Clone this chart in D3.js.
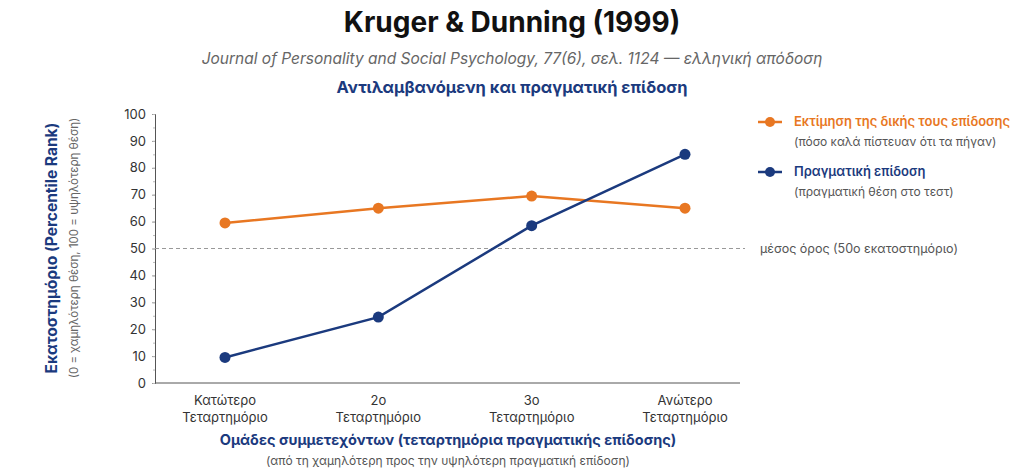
<!DOCTYPE html>
<html><head><meta charset="utf-8">
<script src="https://cdn.jsdelivr.net/npm/d3@7"></script>
<style>body{margin:0;background:#fff;font-family:Inter,"Noto Sans",sans-serif}</style>
</head><body><svg id="c" width="1024" height="473"></svg>
<script>
const groups = ["Κατώτερο\nΤεταρτημόριο", "2ο\nΤεταρτημόριο", "3ο\nΤεταρτημόριο", "Ανώτερο\nΤεταρτημόριο"];
const perceived = [59.5, 65, 69.5, 65];
const actual = [9.5, 24.5, 58.5, 85];
const yTicks = [0, 10, 20, 30, 40, 50, 60, 70, 80, 90, 100];
const orange = "#e87722", navy = "#1b3a7e";

const svg = d3.select("#c");
const x = d3.scalePoint().domain(groups).range([225, 685]);
const y = d3.scaleLinear().domain([0, 100]).range([383, 114]);

// titles
svg.append("text").attr("x", 512).attr("y", 32).attr("text-anchor", "middle")
  .attr("font-size", 28).attr("font-weight", 700).attr("fill", "#111").text("Kruger & Dunning (1999)");
svg.append("text").attr("x", 512).attr("y", 64).attr("text-anchor", "middle")
  .attr("font-size", 15.5).attr("font-style", "italic").attr("fill", "#666")
  .text("Journal of Personality and Social Psychology, 77(6), σελ. 1124 — ελληνική απόδοση");
svg.append("text").attr("x", 512).attr("y", 93).attr("text-anchor", "middle")
  .attr("font-size", 16.5).attr("font-weight", 700).attr("fill", navy).text("Αντιλαμβανόμενη και πραγματική επίδοση");

// y axis
const yAxis = svg.append("g").attr("transform", "translate(155,0)")
  .call(d3.axisLeft(y).tickValues(yTicks).tickSize(3).tickPadding(6));
yAxis.select(".domain").attr("stroke", "#555");
yAxis.selectAll("text").attr("font-size", 13).attr("fill", "#333").attr("font-family", "Inter,sans-serif");
yAxis.selectAll("line").attr("stroke", "#999");
svg.append("g").attr("transform", "translate(155,0)")
  .call(d3.axisLeft(y).ticks(20).tickSize(2).tickFormat(""))
  .call(g => g.select(".domain").remove()).selectAll("line").attr("stroke", "#bbb");

// x axis line
svg.append("line").attr("x1", 155).attr("x2", 740).attr("y1", y(0)).attr("y2", y(0)).attr("stroke", "#555");
groups.forEach(g => {
  const t = svg.append("text").attr("x", x(g)).attr("y", y(0) + 22).attr("text-anchor", "middle")
    .attr("font-size", 13).attr("fill", "#333");
  g.split("\n").forEach((s, i) => t.append("tspan").attr("x", x(g)).attr("dy", i ? 17 : 0).text(s));
});

// reference line
svg.append("line").attr("x1", 155).attr("x2", 745).attr("y1", y(50)).attr("y2", y(50))
  .attr("stroke", "#999").attr("stroke-dasharray", "4,3");
svg.append("text").attr("x", 760).attr("y", y(50) + 4).attr("font-size", 12.5).attr("fill", "#555")
  .text("μέσος όρος (50ο εκατοστημόριο)");

// series
const line = d3.line().x((d, i) => x(groups[i])).y(d => y(d));
[[perceived, orange], [actual, navy]].forEach(([vals, col]) => {
  svg.append("path").attr("d", line(vals)).attr("fill", "none").attr("stroke", col).attr("stroke-width", 2.5);
  svg.selectAll(null).data(vals).enter().append("circle")
    .attr("cx", (d, i) => x(groups[i])).attr("cy", d => y(d)).attr("r", 5.5).attr("fill", col);
});

// axis titles
svg.append("text").attr("transform", "translate(57,248) rotate(-90)").attr("text-anchor", "middle")
  .attr("font-size", 15.5).attr("font-weight", 700).attr("fill", navy).text("Εκατοστημόριο (Percentile Rank)");
svg.append("text").attr("transform", "translate(78,248) rotate(-90)").attr("text-anchor", "middle")
  .attr("font-size", 11.5).attr("fill", "#666").text("(0 = χαμηλότερη θέση, 100 = υψηλότερη θέση)");
svg.append("text").attr("x", 448).attr("y", 445).attr("text-anchor", "middle")
  .attr("font-size", 14.5).attr("font-weight", 700).attr("fill", navy)
  .text("Ομάδες συμμετεχόντων (τεταρτημόρια πραγματικής επίδοσης)");
svg.append("text").attr("x", 448).attr("y", 465).attr("text-anchor", "middle")
  .attr("font-size", 12).attr("fill", "#555").text("(από τη χαμηλότερη προς την υψηλότερη πραγματική επίδοση)");

// legend
const legend = [
  ["Εκτίμηση της δικής τους επίδοσης", "(πόσο καλά πίστευαν ότι τα πήγαν)", orange, 122],
  ["Πραγματική επίδοση", "(πραγματική θέση στο τεστ)", navy, 172]
];
legend.forEach(([a, b, col, ly]) => {
  svg.append("line").attr("x1", 758).attr("x2", 782).attr("y1", ly).attr("y2", ly).attr("stroke", col).attr("stroke-width", 2.5);
  svg.append("circle").attr("cx", 770).attr("cy", ly).attr("r", 5).attr("fill", col);
  svg.append("text").attr("x", 794).attr("y", ly + 4).attr("font-size", 13).attr("font-weight", 600).attr("fill", col).text(a);
  svg.append("text").attr("x", 794).attr("y", ly + 24).attr("font-size", 12).attr("fill", "#555").text(b);
});
</script></body></html>
